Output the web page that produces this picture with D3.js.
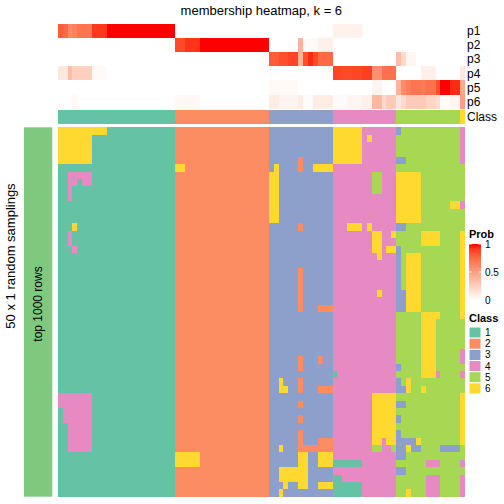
<!DOCTYPE html>
<html><head><meta charset="utf-8">
<script src="https://cdn.jsdelivr.net/npm/d3@7"></script>
<style>body{margin:0;background:#fff}svg{display:block}text{font-family:"Liberation Sans",Arial,sans-serif}</style>
</head><body><div id="chart"></div>
<script>
// ---------------- data ----------------
const classIds = ["1","2","3","4","5","6"];
const classColors = ["#66C2A5","#FC8D62","#8DA0CB","#E78AC3","#A6D854","#FFD92F"];
const probRows = ["p1","p2","p3","p4","p5","p6"];
const probTicks = [0, 0.5, 1];
// class of each sample column (83 columns), run-length "class count"
const columnClass = "1 24,2 19,3 13,4 13,5 13,6 1";
// membership probabilities per sample column
const p1 = [0.8,0.75,0.6,0.65,0.7,0.7,0.7,0.92,0.92,0.92,1,1,1,1,1,1,1,1,1,1,1,1,1,1,
  0,0,0,0,0,0,0,0,0,0,0,0,0,0,0,0,0,0,0,
  0,0,0,0,0,0,0,0,0,0,0,0,0,
  0.07,0.07,0.07,0.07,0.07,0.07,0,0,0,0,0,0,0,
  0,0,0,0,0,0,0,0,0,0,0,0,0,
  0];
const p2 = [0,0,0,0,0,0,0,0,0,0,0,0,0,0,0,0,0,0,0,0,0,0,0,0,
  0.87,0.87,0.93,0.93,0.93,1,1,1,1,1,1,1,1,1,1,1,1,1,1,
  0,0,0,0,0,0,0.4,0.03,0.03,0.03,0.08,0.08,0.08,
  0,0,0,0,0,0,0,0,0,0,0,0,0,
  0,0,0,0,0,0,0,0,0,0,0,0,0,
  0];
const p3 = [0,0,0,0,0,0,0,0,0,0,0,0,0,0,0,0,0,0,0,0,0,0,0,0,
  0,0,0,0,0,0,0,0,0,0,0,0,0,0,0,0,0,0,0,
  0.8,0.8,0.85,0.85,0.88,0.88,0.4,0.85,0.95,0.87,0.75,0.75,0.75,
  0,0,0,0,0,0,0,0,0,0,0,0,0,
  0.35,0.2,0.05,0.05,0,0,0,0,0,0,0,0,0,
  0];
const p4 = [0.12,0.12,0.35,0.25,0.25,0.25,0.25,0.03,0.03,0.03,0,0,0,0,0,0,0,0,0,0,0,0,0,0,
  0,0,0,0,0,0,0,0,0,0,0,0,0,0,0,0,0,0,0,
  0,0,0,0,0,0,0,0,0,0,0,0,0,
  0.88,0.88,0.87,0.87,0.88,0.88,0.9,0.9,0.58,0.58,0.72,0.72,0.72,
  0,0,0,0,0,0.08,0.08,0.08,0,0,0,0,0,
  0.12];
const p5 = [0,0,0,0,0,0,0,0,0,0,0,0,0,0,0,0,0,0,0,0,0,0,0,0,
  0,0,0,0,0,0,0,0,0,0,0,0,0,0,0,0,0,0,0,
  0.03,0.03,0.03,0.03,0.03,0.03,0,0,0,0,0,0,0,
  0,0,0,0,0,0,0,0,0.06,0.06,0,0,0,
  0.4,0.6,0.66,0.7,0.7,0.68,0.72,0.72,0.85,1,1,0.95,0.95,
  0.45];
const p6 = [0,0,0,0.04,0,0,0,0,0,0,0,0,0,0,0,0,0,0,0,0,0,0,0,0,
  0.04,0.04,0.04,0.04,0.04,0,0,0,0,0,0,0,0,0,0,0,0,0,0,
  0.1,0.1,0.06,0.06,0.06,0.06,0.1,0.02,0.02,0.1,0.1,0.1,0.1,
  0.02,0.02,0.02,0.05,0.05,0.05,0.08,0.08,0.38,0.38,0.2,0.28,0.28,
  0.12,0.2,0.28,0.28,0.28,0.28,0.22,0.22,0.18,0.02,0.02,0.05,0.05,
  0.5];
// class assigned in each of the 50 random samplings, run-length "class count"
const samplings = [
"6 10,1 14,2 19,3 13,6 6,4 7,3 1,5 12,4 1",
"6 7,1 17,2 19,3 13,6 6,4 1,6 1,4 5,5 13,4 1",
"6 7,1 17,2 19,3 13,6 6,4 7,5 13,4 1",
"6 7,1 17,2 19,3 13,6 6,4 7,5 13,4 1",
"6 7,1 17,2 19,3 6,2 1,3 6,6 6,4 7,3 2,5 11,4 1",
"1 24,6 2,2 17,3 1,6 1,3 4,2 1,3 2,6 4,4 13,5 14",
"1 2,4 5,1 17,2 19,6 2,3 11,4 8,5 2,4 3,6 5,5 9",
"1 2,4 2,1 1,4 2,1 17,2 19,6 2,3 11,4 8,5 2,4 3,6 5,5 9",
"1 2,4 1,1 21,2 19,6 2,3 11,4 8,5 2,4 3,6 5,5 9",
"1 2,4 1,1 21,2 19,6 2,3 11,4 13,6 5,5 9",
"1 24,2 19,6 2,3 11,4 13,6 5,5 6,6 2,4 1",
"1 24,2 19,6 2,3 11,4 13,6 5,5 9",
"1 24,2 19,6 2,3 11,4 13,6 5,5 9",
"1 3,6 1,1 20,2 19,3 6,2 1,3 6,4 3,6 3,4 1,6 1,4 5,3 2,5 12",
"1 2,4 1,1 21,2 19,3 13,4 8,6 2,4 2,6 1,5 5,6 4,5 4,6 1",
"1 2,4 1,1 21,2 19,3 13,4 8,6 2,4 3,5 5,6 4,5 4,6 1",
"1 3,4 1,1 20,2 19,3 13,4 8,6 2,4 1,6 2,3 1,5 12,6 1",
"1 24,2 19,3 13,4 9,6 1,4 3,3 1,5 1,6 3,5 8,6 1",
"1 24,2 19,3 13,4 13,3 1,5 1,6 3,5 8,6 1",
"1 24,2 19,3 6,2 1,3 6,4 13,3 1,5 1,6 3,5 8,6 1",
"1 24,2 19,3 6,2 1,3 6,4 13,3 1,5 1,6 3,5 8,6 1",
"1 24,2 19,3 6,2 1,3 6,4 13,3 1,5 1,6 3,5 8,6 1",
"1 24,2 19,3 6,2 1,3 6,4 9,6 1,4 3,3 2,6 3,5 8,6 1",
"1 24,2 19,3 6,2 1,3 6,4 13,3 2,6 3,5 8,6 1",
"1 24,2 19,3 6,2 1,3 3,2 3,4 13,3 2,6 3,5 8,6 1",
"1 24,2 19,3 13,4 13,5 5,6 4,5 4,6 1",
"1 24,2 19,3 13,4 13,5 5,6 3,5 6",
"1 24,2 19,3 13,4 13,5 5,6 3,5 6",
"1 24,2 19,3 13,4 13,5 5,6 3,5 6",
"1 24,2 19,3 13,4 13,5 5,6 3,5 6",
"1 24,2 19,3 13,4 13,5 5,6 3,5 5,4 1",
"1 24,2 19,3 6,2 1,3 3,2 1,3 2,4 13,5 5,6 3,5 5,4 1",
"1 24,2 19,3 6,2 1,3 6,4 13,3 1,5 4,6 3,5 6",
"1 24,2 19,3 13,1 1,4 12,5 5,6 3,4 1,5 4,4 1",
"1 24,2 19,3 2,6 1,3 3,2 1,3 6,4 13,3 1,5 1,6 1,5 11",
"1 24,2 19,3 2,6 2,3 2,2 1,3 3,2 3,4 13,3 2,6 1,5 2,6 1,5 8",
"4 7,1 17,2 19,3 13,4 8,6 5,5 13,6 1",
"4 7,1 17,2 19,3 6,2 1,3 6,4 8,6 5,3 2,5 11,6 1",
"1 1,4 6,1 17,2 19,3 13,4 8,6 5,5 13,6 1",
"1 1,4 6,1 17,2 19,3 6,2 1,3 6,4 8,6 5,3 1,5 12,6 1",
"1 2,4 5,1 17,2 19,3 13,4 8,6 5,5 13,6 1",
"1 2,4 5,1 17,2 19,3 6,2 1,3 6,4 8,6 5,3 1,5 12,6 1",
"1 2,4 5,1 17,2 19,3 6,2 1,3 3,2 3,4 8,6 2,4 1,6 2,3 4,6 1,5 8,6 1",
"1 2,4 5,1 17,2 19,3 2,6 1,3 3,2 7,4 8,5 2,4 2,5 1,3 2,6 1,3 2,5 4,3 4,5 1",
"1 24,6 5,2 14,3 6,6 2,3 2,6 3,4 13,3 2,5 12",
"1 24,6 5,2 14,3 6,6 2,3 2,6 3,1 6,4 7,5 6,4 3,5 4,4 1",
"1 24,2 19,3 2,6 6,3 5,4 13,3 2,5 12",
"1 24,2 19,3 2,6 6,3 5,1 2,4 11,5 6,4 3,5 4,4 1",
"1 24,2 19,3 3,6 1,3 2,6 2,3 2,6 3,1 6,4 7,5 6,4 3,5 4,4 1",
"1 24,2 19,3 2,6 1,3 10,1 6,4 7,5 2,6 1,5 3,4 3,5 4,4 1"
];
const titleText = "membership heatmap, k = 6";
const rowTitle = "50 x 1 random samplings";
const rowGroupLabel = "top 1000 rows";

// ---------------- helpers ----------------
function decode(s){
  const out=[];
  s.split(",").forEach(tok=>{const [c,n]=tok.trim().split(" ");for(let i=0;i<+n;i++)out.push(c);});
  return out;
}
const colClasses = decode(columnClass);
const nCol = colClasses.length;
const probData = {p1,p2,p3,p4,p5,p6};
const sampleGrid = samplings.map(decode);

// ---------------- layout ----------------
const W=504,H=504;
const svg=d3.select("#chart").append("svg").attr("width",W).attr("height",H);
const x=d3.scaleBand().domain(d3.range(nCol)).range([57.7,465]).padding(0);
const yProb=d3.scaleBand().domain(probRows).range([24,108.6]).padding(0);
const yMain=d3.scaleBand().domain(d3.range(sampleGrid.length)).range([127.3,496.7]).padding(0);
const classBand=[110,124];
const classColor=d3.scaleOrdinal().domain(classIds).range(classColors);
const probColor=d3.scaleLinear().domain([0,1]).range(["#FFFFFF","#FF0000"]).interpolate(d3.interpolateLab);

// title
svg.append("text").attr("x",(x.range()[0]+x.range()[1])/2).attr("y",15)
  .attr("text-anchor","middle").attr("font-size",13).text(titleText);

// membership heatmap
const gp=svg.append("g").attr("shape-rendering","crispEdges");
probRows.forEach(r=>{
  gp.selectAll(null).data(probData[r]).enter().append("rect")
    .attr("x",(d,i)=>x(i)).attr("width",x.bandwidth()+0.3)
    .attr("y",yProb(r)).attr("height",yProb.bandwidth()+0.3)
    .attr("fill",d=>probColor(d));
});
svg.selectAll(".plab").data(probRows).enter().append("text")
  .attr("x",467).attr("y",r=>yProb(r)+yProb.bandwidth()/2).attr("dy","0.35em")
  .attr("font-size",12).text(r=>r);

// class annotation
gp.selectAll(null).data(colClasses).enter().append("rect")
  .attr("x",(d,i)=>x(i)).attr("width",x.bandwidth()+0.3)
  .attr("y",classBand[0]).attr("height",classBand[1]-classBand[0])
  .attr("fill",d=>classColor(d));
svg.append("text").attr("x",467).attr("y",(classBand[0]+classBand[1])/2).attr("dy","0.35em")
  .attr("font-size",12).text("Class");

// main heatmap
const gm=svg.append("g").attr("shape-rendering","crispEdges");
sampleGrid.forEach((row,ri)=>{
  gm.selectAll(null).data(row).enter().append("rect")
    .attr("x",(d,i)=>x(i)).attr("width",x.bandwidth()+0.3)
    .attr("y",yMain(ri)).attr("height",yMain.bandwidth()+0.3)
    .attr("fill",d=>classColor(d));
});

// left annotation
svg.append("rect").attr("x",24).attr("width",28.3).attr("y",yMain.range()[0])
  .attr("height",yMain.range()[1]-yMain.range()[0]).attr("fill","#7FC97F");
svg.append("text").attr("transform","translate(41.5,304) rotate(-90)")
  .attr("text-anchor","middle").attr("font-size",12).text(rowGroupLabel);
svg.append("text").attr("transform","translate(15,256) rotate(-90)")
  .attr("text-anchor","middle").attr("font-size",13).text(rowTitle);

// Prob legend
const lx=469;
svg.append("text").attr("x",lx).attr("y",238).attr("font-size",11).attr("font-weight","bold").text("Prob");
const defs=svg.append("defs");
const grad=defs.append("linearGradient").attr("id","pg").attr("x1",0).attr("y1",1).attr("x2",0).attr("y2",0);
d3.range(0,1.0001,0.1).forEach(t=>grad.append("stop").attr("offset",t).attr("stop-color",probColor(t)));
const ly=d3.scaleLinear().domain([0,1]).range([300,244]);
svg.append("rect").attr("x",lx).attr("y",ly(1)).attr("width",12).attr("height",ly(0)-ly(1)).attr("fill","url(#pg)");
probTicks.forEach(t=>{
  svg.append("line").attr("x1",lx).attr("x2",lx+2.5).attr("y1",ly(t)).attr("y2",ly(t)).attr("stroke","#fff");
  svg.append("line").attr("x1",lx+9.5).attr("x2",lx+12).attr("y1",ly(t)).attr("y2",ly(t)).attr("stroke","#fff");
});
svg.selectAll(".ptk").data(probTicks).enter().append("text")
  .attr("x",lx+16).attr("y",d=>ly(d)).attr("dy","0.35em").attr("font-size",10).text(d=>d);

// Class legend
svg.append("text").attr("x",lx).attr("y",322).attr("font-size",11).attr("font-weight","bold").text("Class");
const ls=d3.scaleBand().domain(classIds).range([327,394]);
svg.selectAll(".cl").data(classIds).enter().append("rect")
  .attr("x",lx).attr("y",d=>ls(d)).attr("width",12).attr("height",ls.bandwidth())
  .attr("fill",d=>classColor(d)).attr("stroke","#fff").attr("stroke-width",1);
svg.selectAll(".clt").data(classIds).enter().append("text")
  .attr("x",lx+16).attr("y",d=>ls(d)+ls.bandwidth()/2).attr("dy","0.35em").attr("font-size",10).text(d=>d);
</script></body></html>
